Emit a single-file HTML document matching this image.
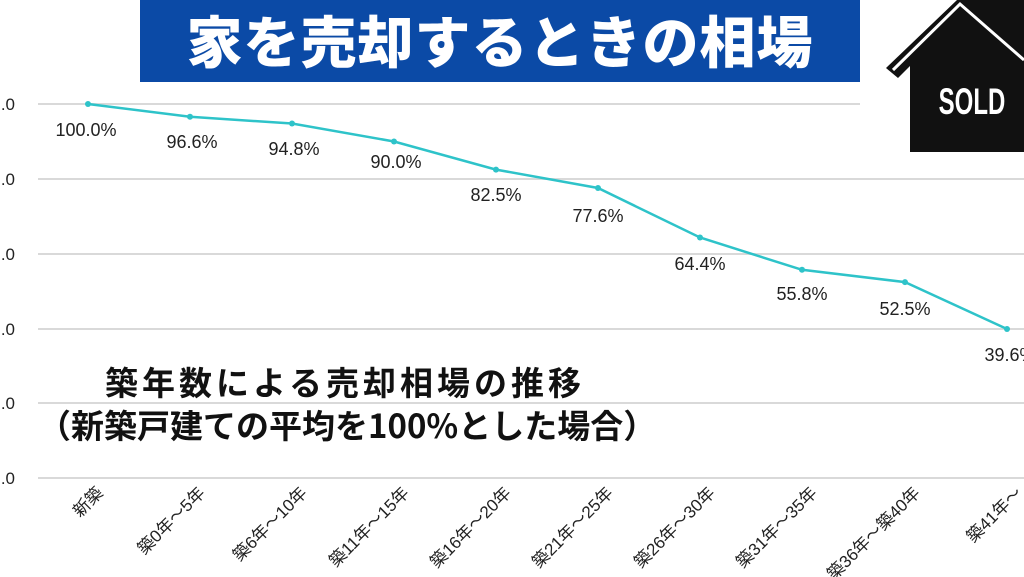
<!DOCTYPE html>
<html><head><meta charset="utf-8"><style>
body{margin:0;width:1024px;height:577px;background:#fff;overflow:hidden;position:relative;font-family:"Liberation Sans","Noto Sans CJK JP",sans-serif}
.banner{position:absolute;left:140px;top:0;width:720px;height:82px;background:#0b4aa6;color:#fff;font-weight:900;font-size:56px;text-align:center;line-height:80px;letter-spacing:1px;font-family:"Noto Sans CJK JP",sans-serif}
</style></head><body>
<div class="banner">家を売却するときの相場</div>
<svg width="1024" height="577" style="position:absolute;left:0;top:0" font-family="Liberation Sans, Noto Sans CJK JP, sans-serif">
<g stroke="#d9d9d9" stroke-width="2">
<line x1="38" y1="104" x2="860" y2="104"/><line x1="38" y1="179" x2="1024" y2="179"/><line x1="38" y1="254" x2="1024" y2="254"/><line x1="38" y1="329" x2="1024" y2="329"/><line x1="38" y1="403" x2="1024" y2="403"/><line x1="38" y1="478" x2="1024" y2="478"/>
</g>
<g font-size="17" fill="#222" text-anchor="end">
<text x="15" y="110">.0</text><text x="15" y="185">.0</text><text x="15" y="260">.0</text><text x="15" y="335">.0</text><text x="15" y="409">.0</text><text x="15" y="484">.0</text>
</g>
<polyline fill="none" stroke="#2ec3c9" stroke-width="2.5" points="88,104 190,116.8 292,123.5 394,141.5 496,169.6 598,188 700,237.5 802,269.8 905,282.1 1007,329"/>
<g fill="#2ec3c9"><circle cx="88" cy="104" r="3"/><circle cx="190" cy="116.8" r="3"/><circle cx="292" cy="123.5" r="3"/><circle cx="394" cy="141.5" r="3"/><circle cx="496" cy="169.6" r="3"/><circle cx="598" cy="188" r="3"/><circle cx="700" cy="237.5" r="3"/><circle cx="802" cy="269.8" r="3"/><circle cx="905" cy="282.1" r="3"/><circle cx="1007" cy="329" r="3"/></g>
<g font-size="18" fill="#222" text-anchor="middle">
<text x="86" y="136">100.0%</text><text x="192" y="148">96.6%</text><text x="294" y="155">94.8%</text><text x="396" y="168">90.0%</text><text x="496" y="201">82.5%</text><text x="598" y="222">77.6%</text><text x="700" y="270">64.4%</text><text x="802" y="300">55.8%</text><text x="905" y="315">52.5%</text><text x="1010" y="361">39.6%</text>
</g>
<g font-size="17" fill="#222" text-anchor="end">
<text transform="translate(104,494) rotate(-45)">新築</text>
<text transform="translate(206,494) rotate(-45)">築0年～5年</text>
<text transform="translate(308,494) rotate(-45)">築6年～10年</text>
<text transform="translate(410,494) rotate(-45)">築11年～15年</text>
<text transform="translate(512,494) rotate(-45)">築16年～20年</text>
<text transform="translate(614,494) rotate(-45)">築21年～25年</text>
<text transform="translate(716,494) rotate(-45)">築26年～30年</text>
<text transform="translate(818,494) rotate(-45)">築31年～35年</text>
<text transform="translate(921,494) rotate(-45)">築36年～築40年</text>
<text transform="translate(1023,494) rotate(-45)">築41年～</text>
</g>
<g font-size="33" fill="#111" font-weight="bold" font-family="Noto Sans CJK JP, sans-serif">
<text x="105" y="395" letter-spacing="4">築年数による売却相場の推移</text>
<text x="38" y="438">（新築戸建ての平均を100%とした場合）</text>
</g>
<g>
<polygon points="957,0 886,68 898,78 910,66 910,152 1024,152 1024,0" fill="#111"/>
<polyline points="893,70 960,4 1024,60" fill="none" stroke="#fff" stroke-width="3"/>
<text transform="translate(972,114) scale(0.8,1.25)" fill="#fff" font-size="30" font-weight="bold" text-anchor="middle" font-family="Liberation Sans, sans-serif">SOLD</text>
</g>
</svg>
</body></html>
